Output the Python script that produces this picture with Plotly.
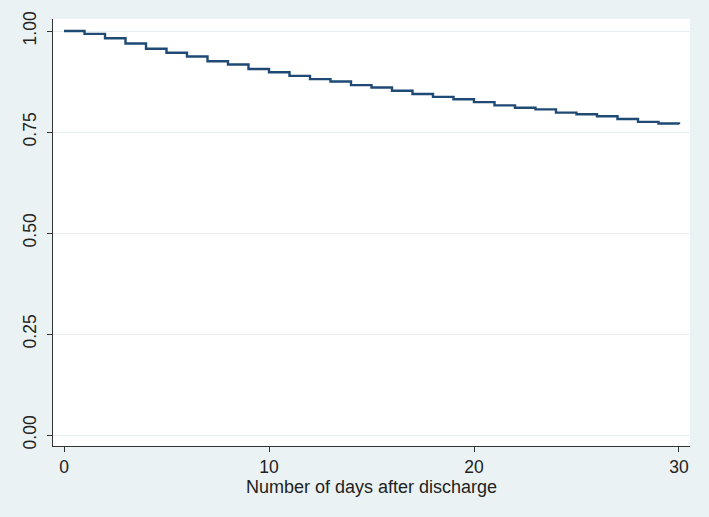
import plotly.graph_objects as go

days = list(range(0, 31))
survival = [1.000, 0.993, 0.982, 0.969, 0.956, 0.946, 0.937, 0.925, 0.917, 0.906,
            0.898, 0.889, 0.881, 0.875, 0.866, 0.860, 0.852, 0.844, 0.837, 0.831,
            0.824, 0.816, 0.810, 0.806, 0.798, 0.794, 0.789, 0.782, 0.775, 0.771,
            0.769]
x_ticks = [0, 10, 20, 30]
y_ticks = [0.0, 0.25, 0.5, 0.75, 1.0]
y_tick_labels = ["0.00", "0.25", "0.50", "0.75", "1.00"]
x_title = "Number of days after discharge"

fig = go.Figure()
fig.add_trace(go.Scatter(x=days, y=survival, mode="lines", line_shape="hv",
                         line=dict(color="#1F4A75", width=2.4), showlegend=False))

font = dict(family="Liberation Sans, Arial, sans-serif", size=17.5, color="#222222")
title_font = dict(family="Liberation Sans, Arial, sans-serif", size=18, color="#222222")
fig.update_layout(
    width=709, height=517,
    margin=dict(l=53, r=19, t=19, b=71),
    paper_bgcolor="#EAF2F3",
    plot_bgcolor="#FFFFFF",
    font=font,
    xaxis=dict(range=[-0.537, 30.537], tickvals=x_ticks, showgrid=False, zeroline=False,
               showline=True, linecolor="#333333", linewidth=1.2,
               ticks="outside", ticklen=5, tickcolor="#333333",
               title=dict(text=x_title, font=title_font, standoff=0)),
    yaxis=dict(range=[-0.0272, 1.0297], tickvals=y_ticks, ticktext=y_tick_labels,
               tickangle=-90, showgrid=True, gridcolor="#E6EEF0", gridwidth=1.2,
               zeroline=False, showline=True, linecolor="#333333", linewidth=1.2,
               ticks="outside", ticklen=5, tickcolor="#333333", ticklabelstandoff=4),
)
fig.write_html("out.html", config={"displayModeBar": False},
               post_script="document.body.style.margin='0';document.body.style.padding='0';")
